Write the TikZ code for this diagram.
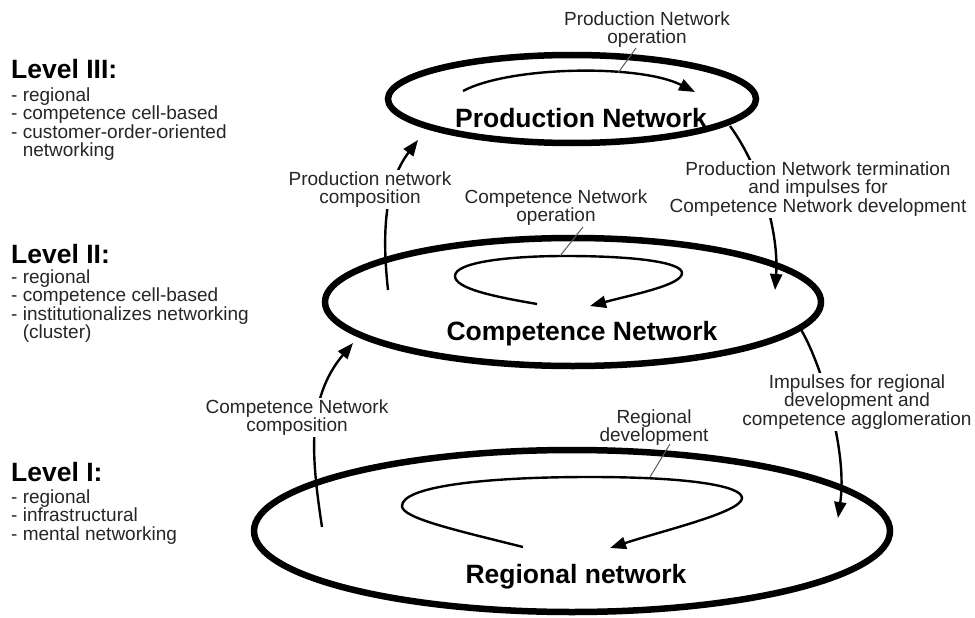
\documentclass[tikz,border=0pt]{standalone}
\usepackage{fontspec}
\setmainfont{Liberation Sans}
\usetikzlibrary{arrows.meta,shapes.geometric}
\definecolor{txt}{HTML}{262626}
\definecolor{lead}{HTML}{5A5A5A}
\begin{document}
\begin{tikzpicture}[x=1pt,y=-1pt,
  ring/.style={ellipse, draw=black, line width=6.5pt, inner sep=0pt},
  big/.style={font=\fontsize{26.5}{30}\selectfont\bfseries, text=black, anchor=base, inner sep=0pt},
  head/.style={font=\fontsize{26.5}{30}\selectfont\bfseries, text=black, anchor=base west, inner sep=0pt},
  lst/.style={font=\fontsize{19}{18.4}\selectfont, text=txt, align=left, anchor=north west, inner sep=0pt},
  lbl/.style={font=\fontsize{19}{18.4}\selectfont, text=txt, align=center, anchor=north, fill=white, inner sep=1.5pt},
  flow/.style={line width=2.4pt, -{Triangle[length=16pt,width=12pt]}},
  leader/.style={draw=lead, line width=1pt}]
\useasboundingbox (0,0) rectangle (975,618);

% rings
\node[ring, minimum width=368pt, minimum height=88pt] (prod) at (572,99) {};
\node[ring, minimum width=496pt, minimum height=128pt] (comp) at (573,302) {};
\node[ring, minimum width=636pt, minimum height=162pt] (reg) at (572,531) {};

% ring titles
\node[big] (prodT) at (581,128) {Production Network};
\node[big] (compT) at (582,340) {Competence Network};
\node[big] (regT) at (576,583) {Regional network};

% level descriptions
\node[head] (l3) at (11,79) {Level III:};
\node[lst] (l3l) at (11,87.3) {- regional\\- competence cell-based\\- customer-order-oriented\\\hspace*{11.6pt}networking};
\node[head] (l2) at (11,263) {Level II:};
\node[lst] (l2l) at (11,269.3) {- regional\\- competence cell-based\\- institutionalizes networking\\\hspace*{11.6pt}(cluster)};
\node[head] (l1) at (11,481) {Level I:};
\node[lst] (l1l) at (11,489.3) {- regional\\- infrastructural\\- mental networking};

% connector coordinates
\coordinate (pa) at (463,91);  \coordinate (pb) at (695,92);
\coordinate (ca) at (537,304); \coordinate (cb) at (590,306);
\coordinate (ra) at (523,547); \coordinate (rb) at (610,548);
\coordinate (bA) at (388,290); \coordinate (bB) at (418,140);
\coordinate (eA) at (322,527); \coordinate (eB) at (353,343);
\coordinate (dA) at (730,126); \coordinate (dB) at (775,290);
\coordinate (gA) at (800,328); \coordinate (gB) at (838,518);

% operation loops
\draw[flow] (pa) .. controls (510,66) and (640,64) .. (pb);
\draw[flow] (ca) .. controls (490,296) and (455,288) .. (455,276)
  .. controls (455,262) and (510,256) .. (565,256)
  .. controls (640,256) and (682,263) .. (682,273)
  .. controls (682,285) and (635,294) .. (cb);
\draw[flow] (ra) .. controls (455,530) and (402,518) .. (402,506)
  .. controls (402,487) and (480,477) .. (590,477)
  .. controls (690,477) and (742,486) .. (742,498)
  .. controls (742,512) and (665,530) .. (rb);

% inter-level arrows
\draw[flow] (bA) .. controls (382,235) and (384,185) .. (bB);
\draw[flow] (eA) .. controls (312,460) and (305,400) .. (eB);
\draw[flow] (dA) .. controls (762,170) and (779,235) .. (dB);
\draw[flow] (gA) .. controls (820,360) and (848,450) .. (gB);

% labels
\node[lbl] (lA) at (647,9.8) {Production Network\\operation};
\node[lbl] (lB) at (370,169.8) {Production network\\composition};
\node[lbl] (lC) at (556,187.8) {Competence Network\\operation};
\node[lbl] (lD) at (818,159.8) {Production Network termination\\and impulses for\\Competence Network development};
\node[lbl] (lE) at (297,397.8) {Competence Network\\composition};
\node[lbl] (lF) at (654,407.8) {Regional\\development};
\node[lbl] (lG) at (857,372.8) {Impulses for regional\\development and\\competence agglomeration};

% leaders
\coordinate (aL1) at (636,48); \coordinate (aL2) at (618,73);
\coordinate (cL1) at (583,227); \coordinate (cL2) at (560,256);
\coordinate (fL1) at (670,444); \coordinate (fL2) at (650,477);
\draw[leader] (aL1) -- (aL2);
\draw[leader] (cL1) -- (cL2);
\draw[leader] (fL1) -- (fL2);
\end{tikzpicture}
\end{document}
